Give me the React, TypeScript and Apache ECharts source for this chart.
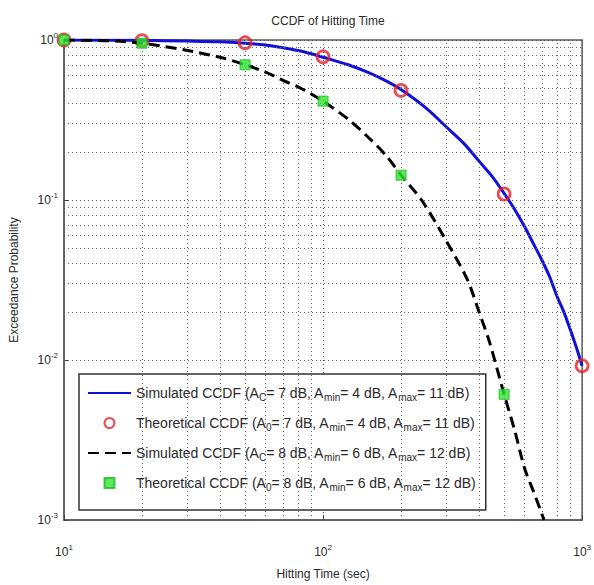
import React, { useEffect, useRef } from "react";
import * as echarts from "echarts";

// Simulated CCDF 1 (A_C = 7 dB)
const simX1 = [10, 20, 30, 40, 50, 60, 70, 80, 90, 100, 125, 150, 175, 200, 250, 300, 350, 400, 450, 500, 550, 600, 650, 700, 750, 800, 850, 900, 950, 1000];
const simY1 = [1.0, 0.995, 0.985, 0.975, 0.955, 0.93, 0.895, 0.86, 0.82, 0.78, 0.7, 0.625, 0.555, 0.49, 0.375, 0.285, 0.225, 0.175, 0.14, 0.11, 0.087, 0.068, 0.053, 0.042, 0.033, 0.025, 0.02, 0.0155, 0.012, 0.0092];
// Theoretical CCDF 1
const theoX1 = [10, 20, 50, 100, 200, 500, 1000];
const theoY1 = [1.0, 0.99, 0.96, 0.785, 0.484, 0.109, 0.0092];
// Simulated CCDF 2 (A_C = 8 dB)
const simX2 = [10, 15, 20, 30, 40, 50, 60, 70, 80, 90, 100, 125, 150, 175, 200, 240, 300, 360, 400, 440, 500, 550, 600, 650, 713];
const simY2 = [1.0, 0.99, 0.955, 0.86, 0.78, 0.7, 0.63, 0.56, 0.51, 0.46, 0.415, 0.32, 0.245, 0.19, 0.143, 0.1, 0.055, 0.032, 0.02, 0.0128, 0.0061, 0.0036, 0.0021, 0.0015, 0.001];
// Theoretical CCDF 2
const theoX2 = [10, 20, 50, 100, 200, 500];
const theoY2 = [1.0, 0.955, 0.7, 0.415, 0.143, 0.0061];

// Minor grid positions
const minorX = [20, 30, 40, 50, 60, 70, 80, 90, 200, 300, 400, 500, 600, 700, 800, 900];
const minorY = [0.002, 0.003, 0.004, 0.005, 0.006, 0.007, 0.008, 0.009, 0.02, 0.03, 0.04, 0.05, 0.06, 0.07, 0.08, 0.09, 0.2, 0.3, 0.4, 0.5, 0.6, 0.7, 0.8, 0.9];

const legendLabels: Record<string, string> = {
  sim1: "Simulated CCDF (A{sub|C}= 7 dB, A{sub|min}= 4 dB, A{sub|max}= 11 dB)",
  theo1: "Theoretical CCDF (A{sub|0}= 7 dB, A{sub|min}= 4 dB, A{sub|max}= 11 dB)",
  sim2: "Simulated CCDF (A{sub|C}= 8 dB, A{sub|min}= 6 dB, A{sub|max}= 12 dB)",
  theo2: "Theoretical CCDF (A{sub|0}= 8 dB, A{sub|min}= 6 dB, A{sub|max}= 12 dB)",
};

const zip = (xs: number[], ys: number[]) => xs.map((x, i) => [x, ys[i]]);

const FONT = "Liberation Sans, Arial, sans-serif";
const TXT = "#2a2a2a";
const BLUE = "#1010d8";
const RED = "#e41f2a";
const GREEN = "#2ee52e";
const SQUARE = "path://M0,0L10,0L10,10L0,10Z";

export default function App() {
  const ref = useRef<HTMLDivElement>(null);
  useEffect(() => {
    document.body.style.margin = "0";
    if (!ref.current) return;
    const chart = echarts.init(ref.current, null, { renderer: "svg" });
    const powLabel = (v: number) => "10{sup|" + Math.round(Math.log10(v)) + "}";
    const supRich = {
      sup: { fontSize: 8, color: TXT, fontFamily: FONT, verticalAlign: "top", padding: [0, 0, 9, 0] },
    };
    const gridLine = { type: [1, 3], color: "#555", width: 1 };
    chart.setOption({
      animation: false,
      title: {
        text: "CCDF of Hitting Time",
        left: 323,
        top: 10,
        textAlign: "center",
        textStyle: { fontSize: 12, fontWeight: "normal", color: TXT, fontFamily: FONT },
      },
      grid: {
        left: 64,
        top: 40,
        right: 11,
        bottom: 53,
        show: true,
        borderColor: "#5a5a5a",
        borderWidth: 1.5,
        backgroundColor: "#fff",
      },
      xAxis: {
        type: "log",
        logBase: 10,
        min: 10,
        max: 1000,
        name: "Hitting Time (sec)",
        nameLocation: "middle",
        nameGap: 48,
        nameTextStyle: { fontSize: 12, color: TXT, fontFamily: FONT },
        axisLine: { lineStyle: { color: "#5a5a5a", width: 1.5 } },
        axisTick: { inside: true, length: 5, lineStyle: { color: "#444" } },
        axisLabel: {
          formatter: powLabel,
          margin: 23,
          color: TXT,
          fontSize: 12,
          fontFamily: FONT,
          rich: supRich,
        },
        splitLine: { show: true, lineStyle: gridLine },
      },
      yAxis: {
        type: "log",
        logBase: 10,
        min: 0.001,
        max: 1,
        name: "Exceedance Probability",
        nameLocation: "middle",
        nameGap: 44,
        nameTextStyle: { fontSize: 12, color: TXT, fontFamily: FONT },
        axisLine: { lineStyle: { color: "#5a5a5a", width: 1.5 } },
        axisTick: { inside: true, length: 5, lineStyle: { color: "#444" } },
        axisLabel: {
          formatter: powLabel,
          margin: 6,
          color: TXT,
          fontSize: 12,
          fontFamily: FONT,
          rich: supRich,
        },
        splitLine: { show: true, lineStyle: gridLine },
      },
      legend: {
        data: [
          { name: "sim1", itemStyle: { opacity: 0 } },
          { name: "theo1" },
          { name: "sim2", itemStyle: { opacity: 0 } },
          { name: "theo2", icon: SQUARE },
        ],
        orient: "vertical",
        left: 79,
        top: 374,
        padding: [12, 10, 18, 8],
        itemGap: 14,
        itemWidth: 43,
        itemHeight: 10,
        backgroundColor: "#fff",
        borderColor: "#333",
        borderWidth: 1.5,
        formatter: (name: string) => legendLabels[name],
        textStyle: {
          fontSize: 14,
          color: TXT,
          fontFamily: FONT,
          rich: {
            sub: { fontSize: 10, color: TXT, fontFamily: FONT, verticalAlign: "bottom", padding: [8, 0, 0, 0] },
          },
        },
      },
      series: [
        {
          name: "grid",
          type: "line",
          data: [],
          z: 1,
          silent: true,
          markLine: {
            silent: true,
            symbol: "none",
            label: { show: false },
            lineStyle: { type: [1, 3], color: "#666", width: 1 },
            data: [
              ...minorX.map((v) => ({ xAxis: v })),
              ...minorY.map((v) => ({ yAxis: v })),
            ],
          },
        },
        {
          name: "sim1",
          type: "line",
          data: zip(simX1, simY1),
          symbol: "none",
          smooth: 0.3,
          z: 3,
          lineStyle: { color: BLUE, width: 3 },
          itemStyle: { color: BLUE },
        },
        {
          name: "theo1",
          type: "scatter",
          data: zip(theoX1, theoY1),
          symbol: "circle",
          symbolSize: 12,
          z: 4,
          itemStyle: { color: "rgba(255,255,255,0)", borderColor: RED, borderWidth: 2.8 },
        },
        {
          name: "sim2",
          type: "line",
          data: zip(simX2, simY2),
          symbol: "none",
          smooth: 0.3,
          z: 5,
          lineStyle: { color: "#000", width: 3, type: [11, 6] },
          itemStyle: { color: "#000" },
        },
        {
          name: "theo2",
          type: "scatter",
          data: zip(theoX2, theoY2),
          symbol: "rect",
          symbolSize: 10,
          symbolKeepAspect: true,
          z: 6,
          itemStyle: { color: GREEN, borderColor: "#22b822", borderWidth: 1 },
        },
      ],
    });
    return () => chart.dispose();
  }, []);
  return <div ref={ref} style={{ width: 594, height: 585 }} />;
}
